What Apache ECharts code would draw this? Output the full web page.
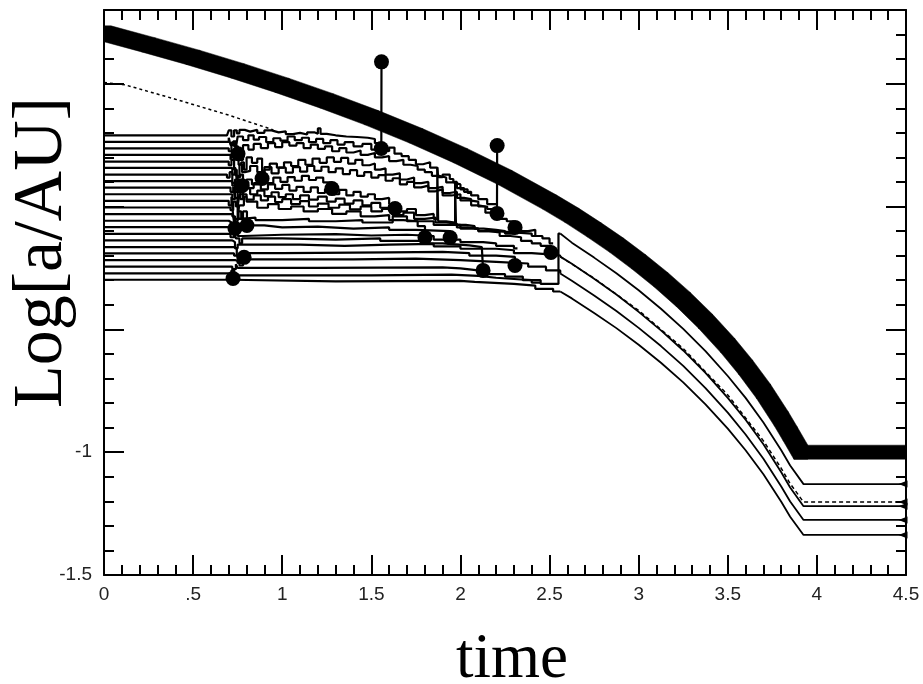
<!DOCTYPE html>
<html><head><meta charset="utf-8">
<script src="https://cdn.jsdelivr.net/npm/echarts@6/dist/echarts.min.js"></script>
<style>html,body{margin:0;padding:0;background:#fff}#c{width:923px;height:684px}</style>
</head><body><div id="c"></div>
<script>
// ---- tick labels ----
const xTickLabels = ["0", ".5", "1", "1.5", "2", "2.5", "3", "3.5", "4", "4.5"];
const yTickLabels = { "-1.5": "-1.5", "-1": "-1" };

// ---- thick (giant planet) path ----
const giantPath = [[0,0.707],[0.25,0.658],[0.5,0.607],[0.75,0.552],[1.0,0.493],[1.25,0.43],[1.5,0.362],[1.75,0.288],[2.0,0.207],[2.25,0.118],[2.5,0.018],[2.625,-0.036],[2.75,-0.095],[2.875,-0.157],[3.0,-0.225],[3.125,-0.298],[3.25,-0.378],[3.375,-0.467],[3.5,-0.566],[3.6,-0.654],[3.7,-0.752],[3.8,-0.864],[3.85,-0.925],[3.91,-1.0],[4.5,-1.0]];

// ---- dotted track ----
const dottedEarly = [[0,0.505],[0.12,0.495],[0.4,0.437],[0.7,0.372],[0.95,0.312]];
const dottedLate = [[2.56,-0.204],[2.75,-0.292],[3.0,-0.423],[3.25,-0.578],[3.5,-0.767],[3.7,-0.954],[3.8,-1.066],[3.85,-1.128],[3.925,-1.203],[4.5,-1.203]];

// ---- embryo tracks (step lines) ----
const t00 = [[0,0.29],[0.69,0.298],[0.70,0.31],[0.715,0.285],[0.73,0.31],[0.745,0.298],[0.76,0.312],[0.79,0.305],[0.82,0.312],[0.86,0.3],[0.9,0.31],[0.94,0.302],[0.98,0.306],[1.02,0.295],[1.06,0.3],[1.1,0.293],[1.14,0.302],[1.18,0.296],[1.2,0.318],[1.215,0.296],[1.25,0.29],[1.3,0.285],[1.36,0.283],[1.42,0.28],[1.48,0.275],[1.52,0.258],[1.556,0.236],[1.557,0.589]];
const t01 = [[0,0.263],[0.7,0.28],[0.71,0.25],[0.725,0.265],[0.74,0.24],[0.75,0.285],[0.78,0.27],[0.81,0.29],[0.84,0.272],[0.87,0.283],[0.91,0.262],[0.95,0.278],[0.99,0.268],[1.03,0.285],[1.07,0.27],[1.11,0.28],[1.15,0.262],[1.19,0.275],[1.23,0.258],[1.27,0.27],[1.31,0.252],[1.35,0.262],[1.4,0.245],[1.45,0.255],[1.5,0.232],[1.56,0.225],[1.6,0.24],[1.63,0.215],[1.67,0.205],[1.71,0.19],[1.75,0.172],[1.79,0.18],[1.83,0.158],[1.87,0.165],[1.875,0.12],[1.9,0.13],[1.94,0.112],[1.96,0.1],[1.98,0.075],[2.02,0.06],[2.06,0.045],[2.1,0.03],[2.15,0.01],[2.205,-0.028],[2.206,0.248]];
const t02 = [[0,0.237],[0.7,0.225],[0.715,0.26],[0.73,0.245],[0.752,0.215],[0.765,0.19],[0.78,0.25],[0.81,0.232],[0.84,0.255],[0.88,0.238],[0.92,0.258],[0.96,0.242],[1.0,0.262],[1.04,0.248],[1.08,0.258],[1.12,0.238],[1.16,0.252],[1.2,0.235],[1.24,0.245],[1.28,0.225],[1.32,0.238],[1.36,0.22],[1.4,0.228],[1.44,0.21],[1.48,0.218],[1.52,0.2],[1.56,0.205],[1.6,0.185],[1.64,0.19],[1.68,0.17],[1.72,0.165],[1.76,0.15],[1.8,0.14],[1.84,0.125],[1.88,0.118],[1.92,0.098],[1.96,0.09],[2.0,0.07],[2.04,0.055],[2.06,0.055]];
const t03 = [[0,0.21],[0.71,0.19],[0.72,0.22],[0.74,0.205],[0.755,0.17],[0.77,0.18],[0.785,0.15],[0.8,0.2],[0.83,0.178],[0.86,0.195],[0.887,0.114],[0.9,0.15],[0.93,0.175],[0.97,0.158],[1.01,0.18],[1.05,0.165],[1.09,0.19],[1.13,0.17],[1.17,0.195],[1.21,0.178],[1.25,0.2],[1.29,0.182],[1.33,0.198],[1.37,0.175],[1.41,0.19],[1.45,0.168],[1.49,0.175],[1.52,0.15],[1.55,0.155],[1.58,0.13],[1.62,0.135],[1.66,0.11],[1.7,0.118],[1.74,0.095],[1.78,0.1],[1.82,0.075],[1.86,0.08],[1.9,0.055],[1.94,0.06],[1.98,0.035],[2.02,0.03],[2.06,0.005],[2.1,0.0],[2.14,-0.025],[2.18,-0.04],[2.22,-0.05],[2.26,-0.06],[2.3,-0.075],[2.34,-0.1],[2.38,-0.095],[2.42,-0.12],[2.46,-0.13],[2.5,-0.15],[2.52,-0.15]];
const t04 = [[0,0.183],[0.7,0.168],[0.715,0.19],[0.73,0.15],[0.745,0.125],[0.76,0.172],[0.775,0.14],[0.79,0.145],[0.82,0.165],[0.86,0.14],[0.9,0.16],[0.94,0.135],[0.98,0.158],[1.02,0.138],[1.06,0.16],[1.1,0.142],[1.14,0.165],[1.18,0.145],[1.22,0.162],[1.26,0.14],[1.3,0.155],[1.34,0.132],[1.38,0.148],[1.42,0.125],[1.46,0.14],[1.5,0.118],[1.54,0.128],[1.58,0.105],[1.62,0.115],[1.66,0.09],[1.7,0.1],[1.74,0.078],[1.78,0.085],[1.82,0.062],[1.86,0.07],[1.9,0.045],[1.95,0.05],[2.0,0.025],[2.05,0.02],[2.1,0.0],[2.15,-0.01],[2.205,-0.028]];
const t05 = [[0,0.157],[0.72,0.13],[0.735,0.16],[0.745,0.11],[0.76,0.07],[0.774,0.085],[0.8,0.11],[0.83,0.09],[0.87,0.112],[0.91,0.095],[0.95,0.118],[0.99,0.1],[1.03,0.12],[1.07,0.105],[1.11,0.125],[1.15,0.108],[1.19,0.118],[1.23,0.098],[1.279,0.073],[1.285,0.073]];
const t06 = [[0,0.13],[0.69,0.118],[0.705,0.14],[0.72,0.095],[0.735,0.06],[0.75,0.12],[0.765,0.13],[0.78,0.1],[0.81,0.075],[0.84,0.095],[0.88,0.07],[0.92,0.09],[0.96,0.072],[1.0,0.088],[1.04,0.065],[1.08,0.08],[1.12,0.06],[1.16,0.078],[1.2,0.055],[1.24,0.07],[1.28,0.05],[1.32,0.068],[1.36,0.045],[1.4,0.06],[1.44,0.04],[1.48,0.05],[1.52,0.03],[1.56,0.035],[1.6,0.01],[1.633,-0.008],[1.64,-0.008]];
const t07 = [[0,0.103],[0.72,0.085],[0.735,0.11],[0.75,0.06],[0.765,0.03],[0.78,0.075],[0.82,0.05],[0.86,0.065],[0.9,0.042],[0.94,0.058],[0.98,0.038],[1.02,0.05],[1.06,0.03],[1.1,0.045],[1.15,0.028],[1.2,0.04],[1.25,0.02],[1.3,0.032],[1.35,0.012],[1.4,0.025],[1.45,0.005],[1.5,0.015],[1.55,-0.005],[1.6,0.005],[1.65,-0.02],[1.7,-0.01],[1.75,-0.035],[1.8,-0.03],[1.85,-0.05],[1.87,0.16],[1.875,-0.06],[1.92,-0.065],[1.97,0.1],[1.975,-0.075],[2.03,-0.08],[2.08,-0.09],[2.13,-0.095],[2.2,-0.1],[2.25,-0.11],[2.306,-0.085],[2.31,-0.085]];
const t08 = [[0,0.077],[0.71,0.06],[0.725,0.08],[0.735,0.035],[0.75,0.0],[0.76,0.05],[0.8,0.028],[0.84,0.045],[0.88,0.025],[0.92,0.04],[0.96,0.018],[1.0,0.03],[1.05,0.01],[1.1,0.022],[1.15,0.0],[1.2,0.012],[1.26,-0.005],[1.32,0.008],[1.38,-0.012],[1.44,0.0],[1.5,-0.02],[1.56,-0.01],[1.62,-0.035],[1.68,-0.025],[1.74,-0.05],[1.8,-0.045],[1.86,-0.065],[1.92,-0.07],[1.98,-0.085],[2.04,-0.09],[2.1,-0.1],[2.16,-0.105],[2.22,-0.12],[2.28,-0.125],[2.34,-0.14],[2.4,-0.15],[2.45,-0.16],[2.508,-0.187],[2.51,-0.187]];
const t09 = [[0,0.05],[0.72,0.03],[0.735,0.06],[0.75,-0.02],[0.76,0.005],[0.785,0.04],[0.8,0.02],[0.86,-0.005],[0.92,0.01],[0.98,-0.01],[1.05,0.0],[1.12,-0.02],[1.2,-0.01],[1.28,-0.03],[1.36,-0.02],[1.44,-0.04],[1.52,-0.035],[1.6,-0.055],[1.68,-0.06],[1.76,-0.08],[1.801,-0.126],[1.81,-0.126]];
const t10 = [[0,0.023],[0.7,0.005],[0.715,0.04],[0.725,-0.04],[0.735,-0.089],[0.74,-0.089]];
const t11 = [[0,-0.004],[0.71,-0.015],[0.725,0.02],[0.74,0.0],[0.755,-0.05],[0.78,-0.02],[0.802,-0.077],[0.81,-0.077]];
const t12 = [[0,-0.031],[0.72,-0.04],[0.735,-0.06],[0.75,-0.02],[0.77,-0.05],[0.802,-0.077],[0.9,-0.085],[1.0,-0.082],[1.2,-0.09],[1.4,-0.085],[1.6,-0.095],[1.75,-0.1],[1.942,-0.126],[1.95,-0.126]];
const t13 = [[0,-0.058],[0.7,-0.065],[0.715,-0.09],[0.73,-0.05],[0.77,-0.045],[0.85,-0.055],[1.0,-0.05],[1.15,-0.06],[1.3,-0.055],[1.45,-0.065],[1.62,-0.04],[1.7,-0.06],[1.85,-0.075],[2.0,-0.09],[2.1,-0.1],[2.2,-0.105],[2.3,-0.11],[2.4,-0.12],[2.45,-0.12]];
const t14 = [[0,-0.084],[0.72,-0.1],[0.735,-0.07],[0.75,-0.12],[0.78,-0.115],[1.0,-0.112],[1.3,-0.118],[1.5,-0.115],[1.7,-0.12],[1.85,-0.135],[2.0,-0.145],[2.127,-0.15],[2.2,-0.16],[2.3,-0.17],[2.32,-0.17]];
const t15 = [[0,-0.111],[0.71,-0.125],[0.73,-0.1],[0.74,-0.13],[0.76,-0.15],[0.775,-0.13],[1.0,-0.135],[1.3,-0.13],[1.55,-0.14],[1.8,-0.15],[1.9,-0.158],[2.05,-0.165],[2.12,-0.165],[2.127,-0.26],[2.13,-0.26]];
const t16 = [[0,-0.138],[0.72,-0.145],[0.735,-0.17],[0.75,-0.155],[1.1,-0.16],[1.35,-0.155],[1.6,-0.152],[1.85,-0.162],[2.0,-0.172],[2.2,-0.178],[2.3,-0.19],[2.4,-0.195],[2.5,-0.2],[2.56,-0.204]];
const t17 = [[0,-0.165],[0.73,-0.17],[0.745,-0.2],[0.76,-0.19],[1.0,-0.187],[1.6,-0.185],[1.9,-0.19],[2.05,-0.2],[2.2,-0.205],[2.306,-0.24],[2.31,-0.24]];
const t18 = [[0,-0.191],[0.73,-0.2],[0.75,-0.23],[0.77,-0.2],[0.786,-0.207],[0.79,-0.207]];
const t19 = [[0,-0.218],[0.735,-0.225],[0.76,-0.24],[0.78,-0.215],[1.4,-0.212],[1.75,-0.218],[2.0,-0.225],[2.2,-0.232],[2.38,-0.245],[2.48,-0.26],[2.56,-0.273]];
const t20 = [[0,-0.245],[0.72,-0.255],[0.74,-0.235],[0.75,-0.25],[1.2,-0.248],[1.9,-0.252],[2.0,-0.26],[2.1,-0.275],[2.25,-0.285],[2.35,-0.3],[2.45,-0.315],[2.55,-0.11],[2.56,-0.11]];
const t21 = [[0,-0.272],[0.715,-0.26],[0.73,-0.28],[1.5,-0.277],[1.95,-0.282],[2.1,-0.29],[2.2,-0.295],[2.3,-0.3],[2.4,-0.31],[2.45,-0.31]];
const t22 = [[0,-0.298],[0.72,-0.305],[1.3,-0.303],[2.0,-0.307],[2.08,-0.315],[2.3,-0.322],[2.42,-0.335],[2.52,-0.346],[2.56,-0.346]];

// ---- surviving planets (smooth migration) ----
const survivorA = [[2.56,-0.11],[2.625,-0.147],[2.75,-0.208],[2.875,-0.272],[3.0,-0.341],[3.125,-0.416],[3.25,-0.498],[3.375,-0.589],[3.5,-0.69],[3.6,-0.779],[3.7,-0.879],[3.8,-0.992],[3.85,-1.054],[3.925,-1.13],[4.5,-1.13]];
const survivorC = [[2.56,-0.204],[2.625,-0.233],[2.75,-0.294],[2.875,-0.358],[3.0,-0.429],[3.125,-0.504],[3.25,-0.586],[3.375,-0.677],[3.5,-0.779],[3.6,-0.868],[3.7,-0.968],[3.8,-1.082],[3.85,-1.144],[3.925,-1.22],[4.5,-1.22]];
const survivorD = [[2.56,-0.273],[2.625,-0.302],[2.75,-0.362],[2.875,-0.425],[3.0,-0.494],[3.125,-0.568],[3.25,-0.649],[3.375,-0.739],[3.5,-0.839],[3.6,-0.928],[3.7,-1.027],[3.8,-1.14],[3.85,-1.201],[3.925,-1.276],[4.5,-1.276]];
const survivorE = [[2.56,-0.346],[2.625,-0.374],[2.75,-0.433],[2.875,-0.495],[3.0,-0.563],[3.125,-0.636],[3.25,-0.716],[3.375,-0.805],[3.5,-0.904],[3.6,-0.992],[3.7,-1.09],[3.8,-1.202],[3.85,-1.263],[3.925,-1.337],[4.5,-1.337]];

// ---- collision markers ----
const collisions = [[1.557,0.589],[1.556,0.236],[2.206,0.248],[2.205,-0.028],[0.724,-0.293],[0.786,-0.207],[0.735,-0.089],[0.802,-0.077],[0.774,0.085],[0.887,0.114],[0.752,0.215],[1.279,0.073],[1.633,-0.008],[1.801,-0.126],[1.942,-0.126],[2.127,-0.26],[2.306,-0.085],[2.306,-0.24],[2.508,-0.187]];

const tracks = [t00,t01,t02,t03,t04,t05,t06,t07,t08,t09,t10,t11,t12,t13,t14,t15,t16,t17,t18,t19,t20,t21,t22];
const survivors = [survivorA, survivorC, survivorD, survivorE];
const endMarks = survivors.concat([dottedLate]).map(s => s[s.length - 1]);

const chart = echarts.init(document.getElementById('c'), null, {renderer: 'canvas'});
const axisCol = '#000';
const labelFont = {color: '#222', fontSize: 19, fontFamily: 'Liberation Sans'};

function xAx(pos, showLabel) {
  return {
    type: 'value', position: pos, min: 0, max: 4.5, interval: 0.5,
    axisLine: {show: true, onZero: false, lineStyle: {color: axisCol, width: 2}},
    axisTick: {show: true, inside: true, length: 20, lineStyle: {color: axisCol, width: 2}},
    minorTick: {show: true, splitNumber: 5, length: 10, lineStyle: {color: axisCol, width: 2}},
    splitLine: {show: false},
    axisLabel: showLabel ? Object.assign({margin: 10, formatter: v => xTickLabels[Math.round(v / 0.5)] || ''}, labelFont) : {show: false},
    name: showLabel ? 'time' : '',
    nameLocation: 'middle', nameGap: 54, nameMoveOverlap: false,
    nameTextStyle: {fontFamily: 'Liberation Serif', fontSize: 63, color: '#000', padding: [0, 0, 0, 14]}
  };
}
function yAx(pos, interval, len, showLabel, showLine) {
  return {
    type: 'value', position: pos, min: -1.5, max: 0.8, interval: interval,
    axisLine: {show: showLine, onZero: false, lineStyle: {color: axisCol, width: 2}},
    axisTick: {show: true, inside: true, length: len, lineStyle: {color: axisCol, width: 2}},
    splitLine: {show: false},
    axisLabel: showLabel ? Object.assign({margin: 12, formatter: v => {
      const k = String(Math.round(v * 10) / 10);
      return yTickLabels[k] || '';
    }}, labelFont) : {show: false},
    name: showLabel ? 'Log[a/AU]' : '',
    nameLocation: 'middle', nameGap: 26, nameRotate: 90, nameMoveOverlap: false,
    nameTextStyle: {fontFamily: 'Liberation Serif', fontSize: 70, color: '#000', padding: [0, 0, 0, 80]}
  };
}

function hull(pts) {
  pts = pts.slice().sort((a, b) => a[0] - b[0] || a[1] - b[1]);
  const cross = (o, a, b) => (a[0] - o[0]) * (b[1] - o[1]) - (a[1] - o[1]) * (b[0] - o[0]);
  const lower = [], upper = [];
  for (const p of pts) { while (lower.length >= 2 && cross(lower[lower.length - 2], lower[lower.length - 1], p) <= 0) lower.pop(); lower.push(p); }
  for (let i = pts.length - 1; i >= 0; i--) { const p = pts[i]; while (upper.length >= 2 && cross(upper[upper.length - 2], upper[upper.length - 1], p) <= 0) upper.pop(); upper.push(p); }
  upper.pop(); lower.pop();
  return lower.concat(upper);
}
const PEN = 7; // half size of the square pen used for the giant planet's track
function renderGiant(params, api) {
  const i = params.dataIndex;
  if (i >= giantPath.length - 1) return null;
  const a = api.coord(giantPath[i]);
  const b = api.coord(giantPath[i + 1]);
  const pts = [];
  [a, b].forEach(p => pts.push([p[0] - PEN, p[1] - PEN], [p[0] + PEN, p[1] - PEN], [p[0] + PEN, p[1] + PEN], [p[0] - PEN, p[1] + PEN]));
  return {type: 'polygon', shape: {points: hull(pts)}, style: {fill: '#000', stroke: '#000', lineWidth: 0.5}};
}

const series = [];
series.push({type: 'custom', data: giantPath, xAxisIndex: 0, yAxisIndex: 0, renderItem: renderGiant, clip: true, z: 2,
  encode: {x: 0, y: 1}});
series.push({type: 'line', data: dottedEarly, xAxisIndex: 0, yAxisIndex: 0, symbol: 'none', z: 3,
  lineStyle: {color: '#000', width: 1.5, type: [3, 3]}});
series.push({type: 'line', data: dottedLate, xAxisIndex: 0, yAxisIndex: 0, symbol: 'none', z: 3,
  lineStyle: {color: '#000', width: 1.5, type: [4, 3]}});
tracks.forEach(t => series.push({type: 'line', data: t, step: 'end', xAxisIndex: 0, yAxisIndex: 0, symbol: 'none', z: 3,
  lineStyle: {color: '#000', width: 2.2}}));
survivors.forEach(t => series.push({type: 'line', data: t, xAxisIndex: 0, yAxisIndex: 0, symbol: 'none', z: 3,
  lineStyle: {color: '#000', width: 1.8}}));
series.push({type: 'scatter', data: collisions, xAxisIndex: 0, yAxisIndex: 0, symbol: 'circle', symbolSize: 15, z: 4,
  itemStyle: {color: '#000', opacity: 1}});
series.push({type: 'scatter', data: endMarks, xAxisIndex: 0, yAxisIndex: 0, symbol: 'triangle', symbolRotate: 90,
  symbolSize: [7, 9], symbolOffset: [-3, 0], z: 4, clip: false, itemStyle: {color: '#000', opacity: 1}});

chart.setOption({
  animation: false,
  backgroundColor: '#fff',
  grid: {left: 104, right: 17, top: 10, bottom: 109, containLabel: false, outerBoundsMode: 'none'},
  xAxis: [xAx('bottom', true), xAx('top', false)],
  yAxis: [yAx('left', 0.5, 20, true, true), yAx('left', 0.1, 10, false, false),
          yAx('right', 0.5, 20, false, true), yAx('right', 0.1, 10, false, false)],
  series: series
});
</script></body></html>
